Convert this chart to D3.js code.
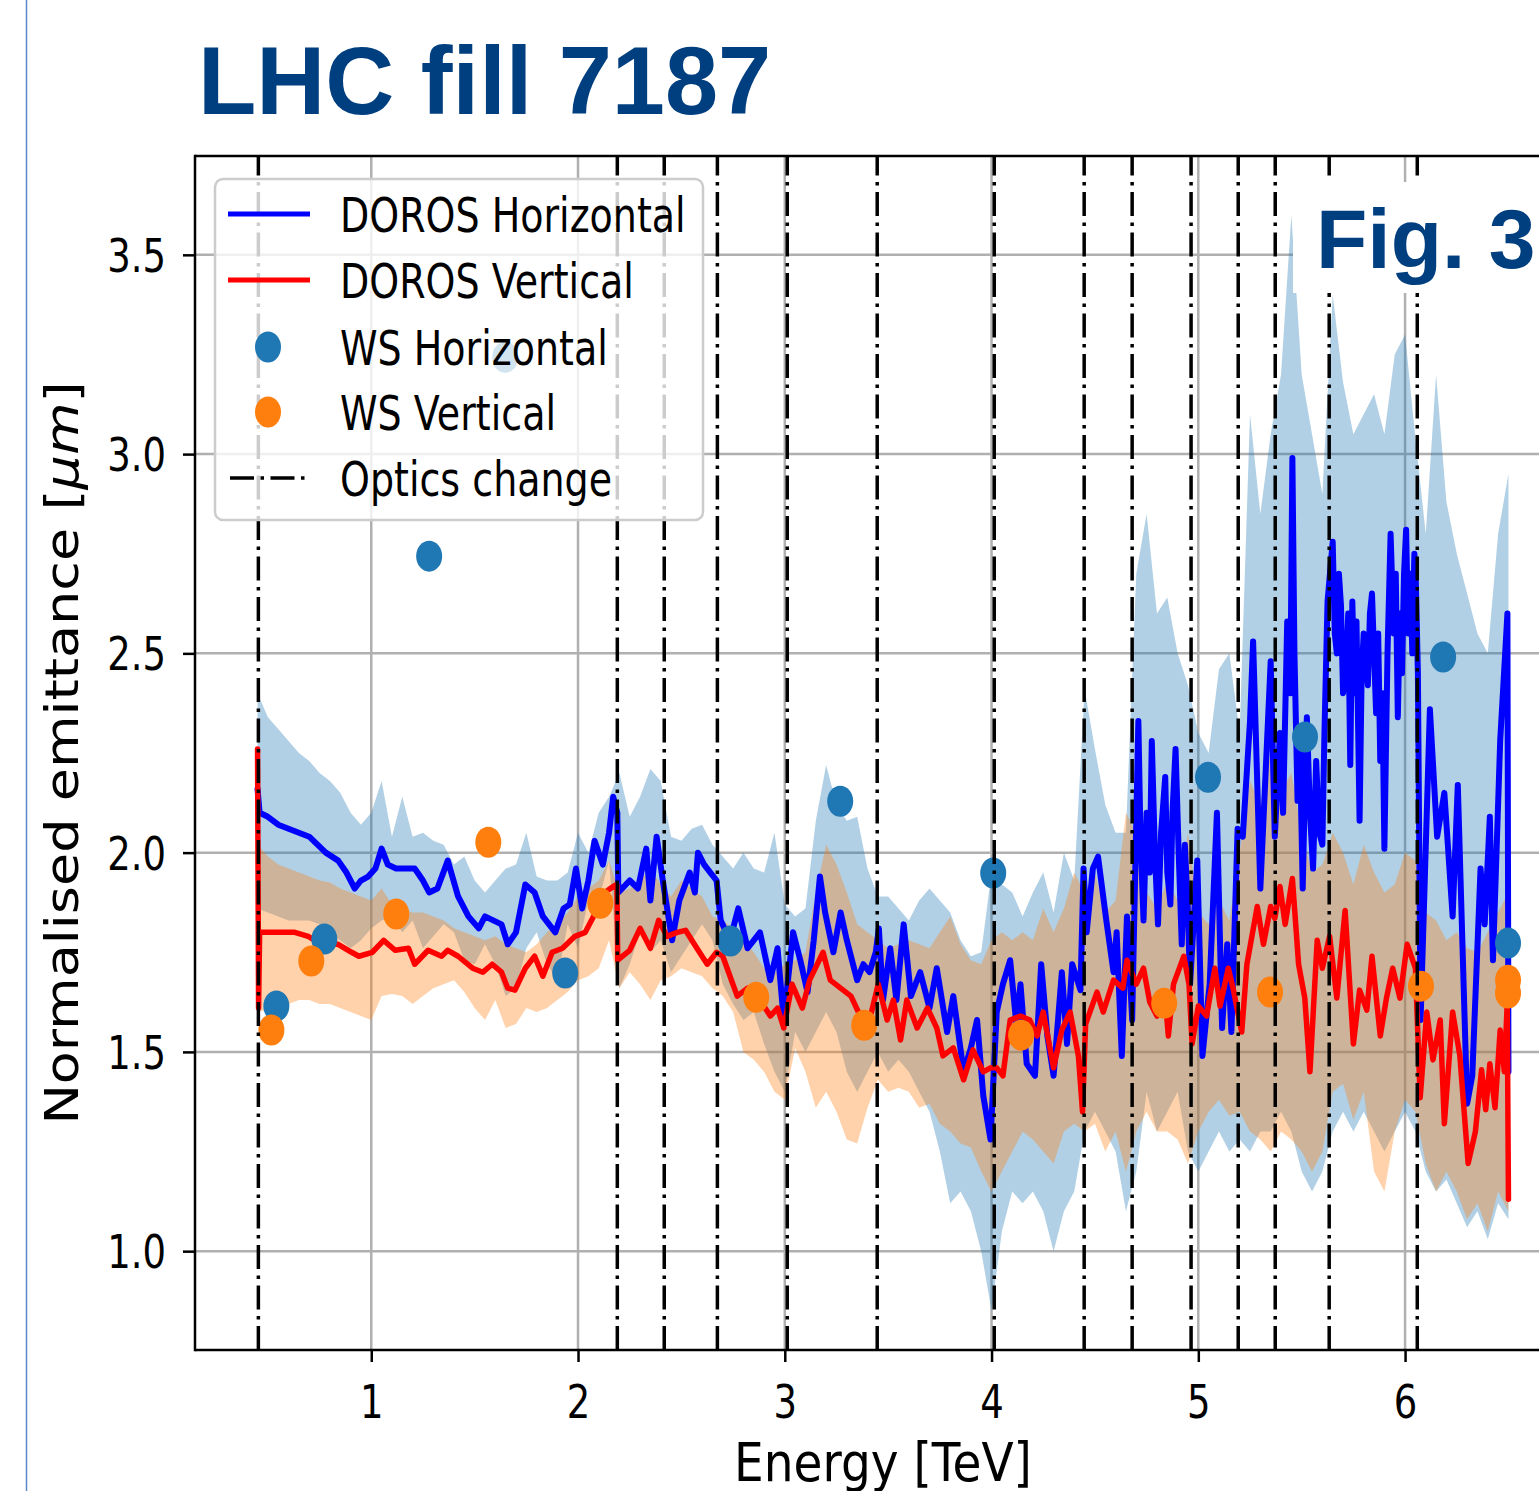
<!DOCTYPE html>
<html><head><meta charset="utf-8">
<script src="https://cdn.jsdelivr.net/npm/d3@7"></script>
<style>body{margin:0;background:#fff}</style>
</head><body><svg id="c" width="1539" height="1491"></svg>
<script>
// ---------------- DATA ----------------
const xTicks = [1, 2, 3, 4, 5, 6];
const yTicks = [1.0, 1.5, 2.0, 2.5, 3.0, 3.5];
const optics = [0.454, 2.19, 2.417, 2.674, 3.012, 3.447, 4.013, 4.448, 4.68, 4.965, 5.193, 5.372, 5.633, 6.059];

const bandX = [0.45,0.50,0.55,0.60,0.65,0.70,0.75,0.80,0.85,0.90,0.95,1.00,1.05,1.10,1.15,1.20,1.25,1.30,1.35,1.40,1.45,1.50,1.55,1.60,1.65,1.70,1.75,1.80,1.85,1.90,1.95,2.00,2.05,2.10,2.15,2.20,
2.25,2.30,2.35,2.40,2.45,2.50,2.55,2.60,2.65,2.70,2.75,2.80,2.85,2.90,2.95,3.00,3.05,3.10,3.15,3.20,3.25,3.30,3.35,3.40,3.45,3.50,3.55,3.60,3.65,3.70,3.75,3.80,3.85,3.90,3.95,4.00,4.05,4.10,4.15,4.20,4.25,4.30,4.35,4.40,
4.45,4.50,4.55,4.60,4.65,4.70,4.75,4.80,4.85,4.90,4.95,5.00,5.05,5.10,5.15,5.20,5.25,5.30,5.35,5.40,5.45,5.50,5.55,5.60,5.65,5.70,5.75,5.80,5.85,5.90,5.95,6.00,6.05,6.10,6.15,6.20,6.25,6.30,6.35,6.40,6.45,6.50];

const hUp = [2.40,2.34,2.31,2.28,2.25,2.23,2.20,2.18,2.15,2.10,2.07,2.10,2.18,2.04,2.14,2.04,2.05,2.03,2.02,1.97,1.99,1.93,1.90,1.93,1.96,1.97,2.05,1.94,1.93,1.93,1.95,2.05,2.00,2.10,2.14,2.20,
2.09,2.14,2.21,2.18,2.04,2.03,2.06,2.07,2.02,1.99,1.96,2.00,1.96,1.95,2.05,1.87,1.84,1.86,2.08,2.22,2.12,2.08,2.09,1.96,1.89,1.89,1.86,1.83,1.88,1.91,1.88,1.85,1.78,1.74,1.75,1.95,1.92,1.90,1.84,1.90,1.95,1.85,2.00,1.93,
2.41,2.26,2.12,2.05,2.05,2.70,2.85,2.60,2.64,2.50,2.42,2.30,2.25,2.46,2.50,2.30,3.10,2.85,3.05,3.20,3.60,3.20,3.05,2.90,3.40,3.18,3.05,3.10,3.15,3.05,3.25,3.30,3.04,2.80,3.20,2.88,2.75,2.65,2.55,2.50,2.80,2.95];

const hLo = [1.86,1.85,1.84,1.83,1.83,1.83,1.82,1.80,1.78,1.76,1.78,1.81,1.83,1.84,1.80,1.83,1.76,1.79,1.82,1.80,1.73,1.72,1.77,1.72,1.64,1.66,1.76,1.80,1.72,1.68,1.82,1.76,1.88,1.88,1.98,1.66,
1.72,1.80,1.75,1.78,1.70,1.74,1.78,1.82,1.78,1.67,1.62,1.58,1.60,1.52,1.45,1.40,1.55,1.50,1.55,1.60,1.55,1.45,1.40,1.45,1.50,1.45,1.48,1.45,1.40,1.35,1.25,1.12,1.15,1.10,1.00,0.85,1.05,1.15,1.12,1.15,1.10,1.00,1.10,1.15,
1.30,1.35,1.30,1.25,1.10,1.20,1.40,1.30,1.35,1.40,1.25,1.20,1.25,1.30,1.25,1.28,1.25,1.30,1.30,1.35,1.30,1.20,1.15,1.20,1.30,1.35,1.30,1.35,1.30,1.25,1.30,1.35,1.30,1.20,1.15,1.18,1.12,1.06,1.10,1.03,1.12,1.08];

const vUp = [2.02,1.99,1.97,1.96,1.95,1.94,1.93,1.925,1.91,1.90,1.89,1.88,1.91,1.87,1.86,1.85,1.85,1.84,1.83,1.81,1.80,1.79,1.78,1.79,1.77,1.76,1.75,1.77,1.80,1.82,1.85,1.89,1.91,1.93,1.98,1.90,
1.91,1.93,1.96,1.92,1.89,1.93,1.91,1.89,1.84,1.83,1.81,1.78,1.75,1.71,1.70,1.72,1.73,1.75,1.90,2.02,1.97,1.90,1.82,1.80,1.78,1.76,1.77,1.78,1.77,1.76,1.80,1.84,1.77,1.73,1.72,1.78,1.80,1.78,1.80,1.78,1.86,1.80,1.86,1.95,
1.90,1.95,1.85,1.88,2.10,2.05,1.90,1.86,1.93,1.88,2.05,1.85,1.82,1.88,1.83,2.00,2.18,2.12,2.25,2.15,2.20,2.05,1.95,1.97,2.05,2.00,1.92,2.02,1.95,1.90,1.92,2.00,1.98,1.85,1.83,1.78,1.80,1.76,1.75,1.80,1.85,1.90];

const vLo = [1.60,1.605,1.61,1.62,1.63,1.63,1.62,1.62,1.61,1.60,1.59,1.58,1.64,1.645,1.64,1.62,1.64,1.66,1.67,1.68,1.65,1.61,1.58,1.63,1.56,1.57,1.61,1.60,1.61,1.63,1.65,1.68,1.69,1.71,1.78,1.66,
1.70,1.67,1.63,1.68,1.69,1.71,1.70,1.69,1.66,1.64,1.60,1.50,1.48,1.45,1.40,1.38,1.51,1.45,1.36,1.40,1.35,1.28,1.27,1.36,1.43,1.40,1.41,1.40,1.36,1.37,1.32,1.30,1.27,1.26,1.20,1.15,1.20,1.25,1.30,1.28,1.25,1.22,1.30,1.32,
1.30,1.32,1.25,1.30,1.20,1.30,1.35,1.30,1.30,1.28,1.22,1.30,1.35,1.38,1.34,1.35,1.30,1.28,1.25,1.30,1.28,1.25,1.20,1.25,1.40,1.42,1.33,1.40,1.20,1.15,1.30,1.38,1.35,1.22,1.15,1.20,1.15,1.08,1.12,1.05,1.15,1.10];

// DOROS Horizontal
const hX = [0.45,0.46,0.50,0.55,0.60,0.65,0.70,0.74,0.78,0.84,0.88,0.92,0.95,0.985,1.02,1.05,1.08,1.12,1.17,1.21,1.25,1.28,1.32,1.37,1.42,1.47,1.52,1.55,1.59,1.63,1.66,1.70,1.745,1.79,1.83,1.86,1.89,1.93,1.96,1.99,2.02,2.05,2.08,2.12,2.15,2.17,2.19,2.195,
2.25,2.29,2.33,2.35,2.38,2.41,2.455,2.49,2.54,2.565,2.58,2.61,2.64,2.67,2.69,2.735,2.775,2.82,2.88,2.93,2.965,2.995,3.04,3.075,3.11,3.14,3.17,3.195,3.235,3.27,3.30,3.35,3.38,3.41,3.44,3.455,3.475,3.51,3.54,3.575,3.61,3.655,3.70,3.735,3.785,3.815,3.865,3.90,3.93,3.96,3.995,
4.025,4.055,4.09,4.12,4.14,4.17,4.21,4.24,4.27,4.30,4.34,4.365,4.39,4.43,4.445,4.46,4.49,4.515,4.555,4.59,4.605,4.63,4.655,
4.68,4.71,4.72,4.735,4.75,4.765,4.775,4.79,4.805,4.82,4.84,4.85,4.865,4.875,4.89,4.905,4.92,4.935,4.95,4.96,
4.995,5.02,5.055,5.09,5.115,5.14,5.16,5.19,5.215,5.25,5.265,5.30,5.35,
5.37,5.385,5.395,5.41,5.43,5.445,5.455,5.465,5.48,5.49,5.505,5.515,5.525,5.54,5.555,5.57,5.585,5.60,5.61,
5.625,5.65,5.66,5.67,5.68,5.69,5.70,5.715,5.725,5.735,5.745,5.755,5.765,5.78,5.79,5.80,5.82,5.83,5.84,5.86,5.87,5.88,5.89,5.90,5.915,5.93,5.945,5.955,5.965,5.975,5.985,5.995,6.005,6.015,6.025,6.035,6.045,6.052,6.062,
6.075,6.12,6.155,6.19,6.23,6.255,6.30,6.325,6.365,6.385,6.41,6.425,6.46,6.495,6.50];
const hY = [2.16,2.10,2.09,2.07,2.06,2.05,2.04,2.02,2.00,1.98,1.95,1.91,1.93,1.94,1.96,2.01,1.97,1.96,1.96,1.96,1.93,1.90,1.91,1.98,1.89,1.84,1.81,1.84,1.83,1.82,1.77,1.80,1.92,1.90,1.84,1.82,1.80,1.86,1.87,1.96,1.86,1.93,2.03,1.97,2.05,2.14,2.10,1.90,
1.93,1.91,2.01,1.88,2.04,1.93,1.78,1.88,1.95,1.90,2.00,1.97,1.95,1.93,1.83,1.78,1.86,1.76,1.80,1.68,1.76,1.58,1.80,1.73,1.65,1.78,1.94,1.85,1.75,1.85,1.78,1.68,1.72,1.70,1.75,1.81,1.63,1.76,1.63,1.82,1.64,1.70,1.61,1.71,1.55,1.64,1.45,1.51,1.58,1.39,1.28,
1.60,1.67,1.73,1.57,1.67,1.47,1.44,1.72,1.54,1.44,1.70,1.52,1.72,1.655,1.96,1.80,1.96,1.99,1.83,1.70,1.80,1.49,1.84,
1.58,2.33,2.05,1.83,2.10,1.95,2.28,2.00,1.82,2.05,2.19,1.95,1.87,2.10,2.26,2.00,1.77,2.02,1.85,1.67,
1.98,1.49,1.67,2.10,1.56,1.77,1.55,2.06,2.04,2.33,2.53,1.91,2.48,
2.04,2.20,2.30,2.10,2.58,2.40,2.99,2.50,2.13,2.30,1.91,2.15,2.34,2.10,1.96,2.23,2.05,2.02,2.30,
2.63,2.78,2.55,2.50,2.70,2.62,2.40,2.45,2.60,2.22,2.63,2.40,2.58,2.08,2.45,2.55,2.42,2.60,2.65,2.35,2.55,2.23,2.40,2.01,2.50,2.80,2.55,2.70,2.34,2.60,2.45,2.70,2.81,2.55,2.70,2.50,2.75,2.68,2.45,
1.58,2.36,2.04,2.15,1.84,2.17,1.37,1.44,1.96,1.82,2.09,1.73,2.28,2.60,1.45];

// DOROS Vertical
const vX = [0.45,0.455,0.46,0.50,0.55,0.63,0.695,0.76,0.84,0.905,0.94,1.005,1.06,1.115,1.18,1.21,1.275,1.34,1.37,1.42,1.49,1.54,1.585,1.63,1.66,1.695,1.745,1.79,1.83,1.875,1.925,1.985,2.035,2.085,2.13,2.17,2.188,2.192,
2.25,2.30,2.35,2.39,2.43,2.48,2.52,2.575,2.625,2.67,2.70,2.77,2.82,2.88,2.93,2.965,2.995,3.035,3.085,3.12,3.185,3.22,3.27,3.32,3.365,3.41,3.452,3.495,3.525,3.56,3.59,3.64,3.69,3.735,3.765,3.815,3.865,3.91,3.96,3.995,
4.025,4.055,4.09,4.14,4.185,4.22,4.25,4.30,4.34,4.38,4.42,4.44,4.455,4.51,4.54,4.59,4.635,4.655,4.70,4.735,4.765,4.80,4.84,4.855,4.88,4.93,4.955,4.97,5.00,5.04,5.08,5.105,5.145,5.17,5.21,5.235,5.285,5.315,5.35,5.37,5.395,5.42,5.455,5.485,5.515,5.54,5.575,5.60,5.635,
5.67,5.71,5.75,5.78,5.815,5.84,5.88,5.91,5.94,5.975,6.01,6.05,6.073,6.105,6.135,6.17,6.19,6.23,6.265,6.305,6.34,6.37,6.39,6.41,6.435,6.46,6.48,6.494,6.50];
const vY = [2.26,1.61,1.80,1.80,1.80,1.80,1.79,1.77,1.77,1.75,1.74,1.75,1.78,1.755,1.76,1.72,1.755,1.74,1.755,1.74,1.71,1.70,1.72,1.70,1.66,1.655,1.71,1.74,1.69,1.75,1.76,1.79,1.80,1.85,1.90,1.915,1.92,1.73,
1.755,1.81,1.76,1.83,1.79,1.80,1.805,1.76,1.72,1.75,1.74,1.64,1.66,1.63,1.59,1.61,1.56,1.67,1.61,1.68,1.75,1.68,1.66,1.64,1.59,1.58,1.67,1.58,1.63,1.53,1.63,1.56,1.61,1.56,1.49,1.51,1.43,1.505,1.45,1.46,
1.46,1.44,1.58,1.59,1.58,1.54,1.60,1.46,1.555,1.60,1.49,1.35,1.57,1.65,1.60,1.68,1.66,1.73,1.67,1.71,1.625,1.59,1.635,1.54,1.67,1.74,1.67,1.52,1.615,1.59,1.71,1.615,1.71,1.655,1.55,1.72,1.865,1.77,1.865,1.835,1.915,1.82,1.935,1.72,1.635,1.45,1.78,1.71,1.79,
1.635,1.855,1.52,1.655,1.605,1.74,1.54,1.635,1.71,1.635,1.77,1.71,1.385,1.60,1.48,1.58,1.32,1.60,1.49,1.22,1.30,1.455,1.355,1.47,1.36,1.555,1.45,1.62,1.13];

// Wire scanner points
const wsHx = [0.541,0.773,1.280,1.648,1.938,2.737,3.268,4.008,5.047,5.516,6.184,6.498];
const wsHy = [1.615,1.783,2.744,3.243,1.698,1.778,2.129,1.949,2.189,2.290,2.491,1.773];
const wsVx = [0.517,0.710,1.121,1.566,2.108,2.862,3.384,4.143,4.835,5.347,6.077,6.498,6.498];
const wsVy = [1.555,1.728,1.846,2.026,1.873,1.637,1.567,1.542,1.622,1.650,1.665,1.680,1.648];

const legendLabels = ["DOROS Horizontal", "DOROS Vertical", "WS Horizontal", "WS Vertical", "Optics change"];

// ---------------- DRAWING ----------------
const svg = d3.select('#c');
const L = 195, T = 156, B = 1350, R = 1571;
const x = d3.scaleLinear().domain([0.1475, 6.8025]).range([L, R]);
const y = d3.scaleLinear().domain([0.752, 3.748]).range([B, T]);
const SY = 1.26;   // vertical stretch of small figure text
const SYL = 1.15;  // stretch of axis labels
const FONT = "'DejaVu Sans', sans-serif";

svg.append('rect').attr('width',1539).attr('height',1491).attr('fill','#fff');
svg.append('line').attr('x1',26.5).attr('x2',26.5).attr('y1',0).attr('y2',1491).attr('stroke','#5b86c9').attr('stroke-width',1.5);

svg.append('defs').append('clipPath').attr('id','clip').append('rect')
  .attr('x',L).attr('y',T).attr('width',R-L).attr('height',B-T);

const plot = svg.append('g').attr('clip-path','url(#clip)');

// grid
plot.selectAll('.gx').data(xTicks).join('line')
  .attr('x1',d=>x(d)).attr('x2',d=>x(d)).attr('y1',T).attr('y2',B)
  .attr('stroke','#b0b0b0').attr('stroke-width',2.5);
plot.selectAll('.gy').data(yTicks).join('line')
  .attr('x1',L).attr('x2',R).attr('y1',d=>y(d)).attr('y2',d=>y(d))
  .attr('stroke','#b0b0b0').attr('stroke-width',2.5);

// bands
const idx = d3.range(bandX.length);
const areaH = d3.area().x(i=>x(bandX[i])).y0(i=>y(hLo[i])).y1(i=>y(hUp[i]));
const areaV = d3.area().x(i=>x(bandX[i])).y0(i=>y(vLo[i])).y1(i=>y(vUp[i]));
plot.append('path').attr('d',areaH(idx)).attr('fill','#1f77b4').attr('fill-opacity',0.35);
plot.append('path').attr('d',areaV(idx)).attr('fill','#ff7f0e').attr('fill-opacity',0.35);

// lines
const lineH = d3.line().x(i=>x(hX[i])).y(i=>y(hY[i]));
const lineV = d3.line().x(i=>x(vX[i])).y(i=>y(vY[i]));
plot.append('path').attr('d',lineH(d3.range(hX.length))).attr('fill','none')
  .attr('stroke','#0000ff').attr('stroke-width',6).attr('stroke-linejoin','round').attr('stroke-linecap','round');
plot.append('path').attr('d',lineV(d3.range(vX.length))).attr('fill','none')
  .attr('stroke','#ff0000').attr('stroke-width',5.5).attr('stroke-linejoin','round').attr('stroke-linecap','round');

// WS points
plot.selectAll('.wsh').data(wsHx).join('ellipse')
  .attr('cx',(d)=>x(d)).attr('cy',(d,i)=>y(wsHy[i])).attr('rx',13).attr('ry',15.5).attr('fill','#1f77b4');
plot.selectAll('.wsv').data(wsVx).join('ellipse')
  .attr('cx',(d)=>x(d)).attr('cy',(d,i)=>y(wsVy[i])).attr('rx',13).attr('ry',15.5).attr('fill','#ff7f0e');

// optics change lines
plot.selectAll('.opt').data(optics).join('line')
  .attr('x1',d=>x(d)).attr('x2',d=>x(d)).attr('y1',B).attr('y2',T)
  .attr('stroke','#000').attr('stroke-width',3.5).attr('stroke-dasharray','24,6.5,3.5,6.5');

// spines
svg.append('line').attr('x1',L).attr('x2',L).attr('y1',T-1.25).attr('y2',B+1.25).attr('stroke','#000').attr('stroke-width',2.5);
svg.append('line').attr('x1',L).attr('x2',1539).attr('y1',T).attr('y2',T).attr('stroke','#000').attr('stroke-width',2.5);
svg.append('line').attr('x1',L).attr('x2',1539).attr('y1',B).attr('y2',B).attr('stroke','#000').attr('stroke-width',2.5);

// axes
const gx = svg.append('g').attr('transform',`translate(0,${B})`)
  .call(d3.axisBottom(x).tickValues(xTicks).tickSize(12).tickSizeOuter(0).tickFormat(d3.format('d')));
gx.select('.domain').remove();
gx.attr('font-size',null).attr('font-family',null);
gx.selectAll('.tick line').attr('stroke','#000').attr('stroke-width',2.5);
gx.selectAll('.tick text').attr('y',null).attr('dy',null)
  .attr('transform',`translate(0,68) scale(1,${SY})`)
  .attr('font-size',37).attr('font-family',FONT).attr('fill','#000');

const gy = svg.append('g').attr('transform',`translate(${L},0)`)
  .call(d3.axisLeft(y).tickValues(yTicks).tickSize(12).tickSizeOuter(0).tickFormat(d3.format('.1f')));
gy.select('.domain').remove();
gy.attr('font-size',null).attr('font-family',null);
gy.selectAll('.tick line').attr('stroke','#000').attr('stroke-width',2.5);
gy.selectAll('.tick text').attr('x',null).attr('dy',null)
  .attr('transform',`translate(-29,16.5) scale(1,${SY})`).attr('text-anchor','end')
  .attr('font-size',37).attr('font-family',FONT).attr('fill','#000');

// axis labels
svg.append('text').attr('transform',`translate(883,1481) scale(1,${SYL})`)
  .attr('text-anchor','middle').attr('font-size',47).attr('font-family',FONT).attr('fill','#000')
  .text('Energy [TeV]');
const yl = svg.append('text').attr('transform',`translate(78,753) scale(1,${SYL}) rotate(-90)`)
  .attr('text-anchor','middle').attr('font-size',47).attr('font-family',FONT).attr('fill','#000');
yl.append('tspan').text('Normalised emittance [');
yl.append('tspan').attr('font-style','italic').text('μm');
yl.append('tspan').text(']');

// legend
const lg = svg.append('g');
lg.append('rect').attr('x',215).attr('y',179).attr('width',488).attr('height',341).attr('rx',8)
  .attr('fill','#fff').attr('fill-opacity',0.8).attr('stroke','#cccccc').attr('stroke-width',2.5);
const rowY = [214, 280, 347, 412, 478];
lg.append('line').attr('x1',228).attr('x2',310).attr('y1',rowY[0]).attr('y2',rowY[0]).attr('stroke','#0000ff').attr('stroke-width',5);
lg.append('line').attr('x1',228).attr('x2',310).attr('y1',rowY[1]).attr('y2',rowY[1]).attr('stroke','#ff0000').attr('stroke-width',5);
lg.append('ellipse').attr('cx',268).attr('cy',rowY[2]).attr('rx',13).attr('ry',15.5).attr('fill','#1f77b4');
lg.append('ellipse').attr('cx',268).attr('cy',rowY[3]).attr('rx',13).attr('ry',15.5).attr('fill','#ff7f0e');
lg.append('line').attr('x1',230).attr('x2',308).attr('y1',rowY[4]).attr('y2',rowY[4]).attr('stroke','#000').attr('stroke-width',3.5).attr('stroke-dasharray','24,6.5,3.5,6.5');
lg.selectAll('.lt').data(legendLabels).join('text')
  .attr('transform',(d,i)=>`translate(340,${rowY[i]+18}) scale(1,${SY})`)
  .attr('font-size',38).attr('font-family',FONT).attr('fill','#000').text(d=>d);

// slide overlay: Fig. 3 box and title
svg.append('rect').attr('x',1293).attr('y',182).attr('width',246).attr('height',111).attr('fill','#fff');
svg.append('text').attr('x',1316).attr('y',268).attr('font-size',84).attr('font-weight','bold')
  .attr('font-family',"'Liberation Sans', Arial, sans-serif").attr('fill','#003f7f').text('Fig. 3');
svg.append('text').attr('x',198).attr('y',114).attr('font-size',95.5).attr('font-weight','bold')
  .attr('font-family',"'Liberation Sans', Arial, sans-serif").attr('fill','#003f7f').text('LHC fill 7187');
</script>
</body></html>
